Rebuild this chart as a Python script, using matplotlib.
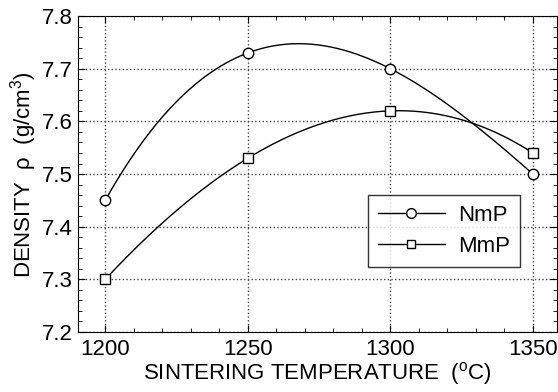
import matplotlib
matplotlib.use("Agg")
import matplotlib.pyplot as plt
import numpy as np
from matplotlib.ticker import MultipleLocator

plt.rcParams['font.family'] = ['Liberation Sans', 'DejaVu Sans']
plt.rcParams['mathtext.fontset'] = 'custom'
plt.rcParams['mathtext.rm'] = 'Liberation Sans'
plt.rcParams['mathtext.it'] = 'Liberation Sans'

# data
temps = [1200, 1250, 1300, 1350]
nmp = [7.45, 7.73, 7.70, 7.50]
mmp = [7.30, 7.53, 7.62, 7.54]


def smooth(x, y):
    # cubic through the four points
    c = np.polyfit(x, y, 3)
    xs = np.linspace(x[0], x[-1], 200)
    return xs, np.polyval(c, xs)


fig = plt.figure(figsize=(5.58, 3.92), dpi=100)
ax = fig.add_axes([0.140, 0.153, 0.858, 0.806])

xs, ys = smooth(temps, nmp)
ax.plot(xs, ys, color='black', lw=1)
xs, ys = smooth(temps, mmp)
ax.plot(xs, ys, color='black', lw=1)
ax.plot(temps, nmp, ls='none', marker='o', ms=7.5, mfc='white', mec='black', mew=1)
ax.plot(temps, mmp, ls='none', marker='s', ms=7.5, mfc='white', mec='black', mew=1)

# legend proxies
ax.plot([], [], color='black', lw=1, marker='o', ms=7, mfc='white', mec='black', label='NmP')
ax.plot([], [], color='black', lw=1, marker='s', ms=6, mfc='white', mec='black', label='MmP')

ax.set_xlim(1190.5, 1358.4)
ax.set_ylim(7.2, 7.8)
ax.xaxis.set_major_locator(MultipleLocator(50))
ax.xaxis.set_minor_locator(MultipleLocator(10))
ax.yaxis.set_major_locator(MultipleLocator(0.1))
ax.yaxis.set_minor_locator(MultipleLocator(0.02))
ax.tick_params(which='both', direction='in', top=True, right=True, labelsize=16)
ax.tick_params(which='major', length=5)
ax.tick_params(which='minor', length=3)
ax.tick_params(axis='y', pad=4)
ax.tick_params(axis='x', pad=5)
ax.grid(True, which='major', color='#444444', ls=':', lw=1)

ax.set_xlabel('SINTERING TEMPERATURE  ($^{\\rm o}$C)', fontsize=16, labelpad=0)
ax.set_ylabel('DENSITY  \u03c1  (g/cm$^{3}$)', fontsize=16, labelpad=2)

leg = ax.legend(loc='lower right', bbox_to_anchor=(0.923, 0.205), fontsize=16,
                frameon=True, fancybox=False, handlelength=3.0, borderpad=0.45,
                labelspacing=0.45, handletextpad=0.6, borderaxespad=0)
leg.get_frame().set_edgecolor('black')
leg.get_frame().set_linewidth(1)

fig.savefig('out.png', dpi=100)
